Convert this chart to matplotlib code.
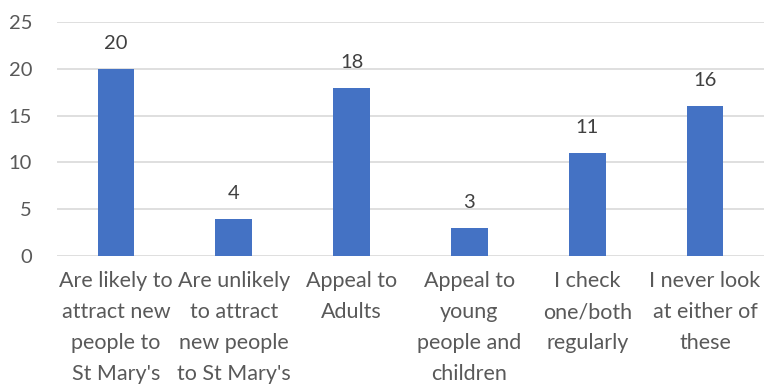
import matplotlib.pyplot as plt

categories = ["Are likely to\nattract new\npeople to\nSt Mary's",
              "Are unlikely\nto attract\nnew people\nto St Mary's",
              "Appeal to\nAdults",
              "Appeal to\nyoung\npeople and\nchildren",
              "I check\none/both\nregularly",
              "I never look\nat either of\nthese"]
values = [20, 4, 18, 3, 11, 16]

plt.rcParams['font.family'] = ['Lato', 'DejaVu Sans']
text_color = '#595959'

fig = plt.figure(figsize=(7.66, 3.87), dpi=100)
ax = fig.add_axes([57 / 766, 1 - 256 / 387, 707 / 766, 234 / 387])

x = range(len(values))
bars = ax.bar(x, values, width=0.31, color='#4472C4', zorder=3)
for b, v in zip(bars, values):
    ax.text(b.get_x() + b.get_width() / 2, v + 1.8, str(v), ha='center', va='bottom',
            fontsize=14.5, color='#404040')

ax.set_xlim(-0.5, len(values) - 0.5)
ax.set_ylim(0, 25)
ax.set_yticks(range(0, 26, 5))
ax.set_xticks(list(x))
ax.set_xticklabels(categories, linespacing=1.68, fontsize=15.5)
ax.tick_params(axis='both', length=0, colors=text_color)
ax.tick_params(axis='y', labelsize=14.5, pad=18)
ax.tick_params(axis='x', pad=11)
ax.yaxis.grid(True, color='#D9D9D9', linewidth=1.2, zorder=0)
for s in ax.spines.values():
    s.set_visible(False)

fig.savefig('out.png', dpi=100)
